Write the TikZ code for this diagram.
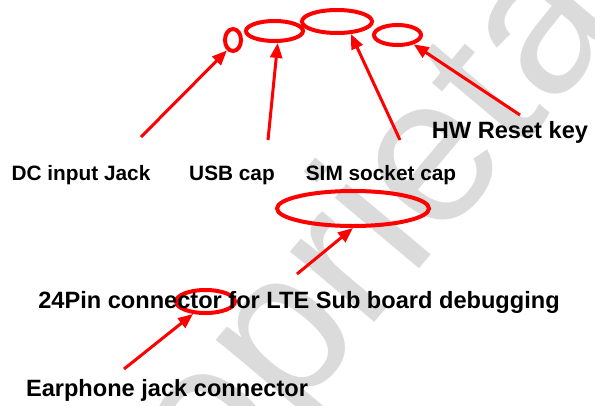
\documentclass[tikz,border=0pt]{standalone}
\usepackage{fontspec}
\setmainfont{Liberation Sans}
\usetikzlibrary{shapes.geometric,arrows.meta}

\begin{document}
\begin{tikzpicture}[
    x=1pt, y=-1pt,
    ring/.style={ellipse, draw=red, line width=4pt, inner sep=0pt},
    callout/.style={draw=red, line width=3pt, -{Triangle[length=15pt,width=12pt]}},
    tag/.style={font=\fontsize{20.8}{24}\selectfont\bfseries, anchor=base, inner sep=0pt},
    bigtag/.style={tag, font=\fontsize{23.6}{28}\selectfont\bfseries},
]
\useasboundingbox (0,0) rectangle (595,405);
% watermark
\node[font=\fontsize{208}{208}\selectfont, text=black!14, rotate=50, anchor=base west, inner sep=0pt] (wm) at (98,652) {proprietary};
% marked parts
\node[ring, minimum width=16pt, minimum height=22pt] (dc) at (233,40) {};
\node[ring, minimum width=57pt, minimum height=20pt] (usb) at (274.5,31) {};
\node[ring, minimum width=70pt, minimum height=23pt] (sim) at (337,21.5) {};
\node[ring, minimum width=47pt, minimum height=20pt] (rst) at (397.5,35) {};
\node[ring, minimum width=152pt, minimum height=35pt] (pin) at (353,208.5) {};
\node[ring, minimum width=59pt, minimum height=23pt] (ear) at (205.5,301.5) {};
% labels
\node[tag] (dcl) at (81,180) {DC input Jack};
\node[tag] (usbl) at (232,180) {USB cap};
\node[tag] (siml) at (381,180) {SIM socket cap};
\node[bigtag] (rstl) at (510,138) {HW Reset key};
\node[bigtag] (pinl) at (299,308) {24Pin connector for LTE Sub board debugging};
\node[bigtag] (earl) at (167,396) {Earphone jack connector};
% arrows
\coordinate (dcTail) at (141,137);
\coordinate (usbTail) at (268,140);
\coordinate (simTail) at (400,140);
\coordinate (rstTail) at (520,115);
\coordinate (pinTail) at (297,274);
\coordinate (earTail) at (124,369);
\foreach \part/\ang in {dc/-120, usb/-75, sim/-42, rst/-30, pin/-90, ear/-135} {
  \draw[callout] (\part Tail) -- (\part.\ang);
}
\end{tikzpicture}
\end{document}
